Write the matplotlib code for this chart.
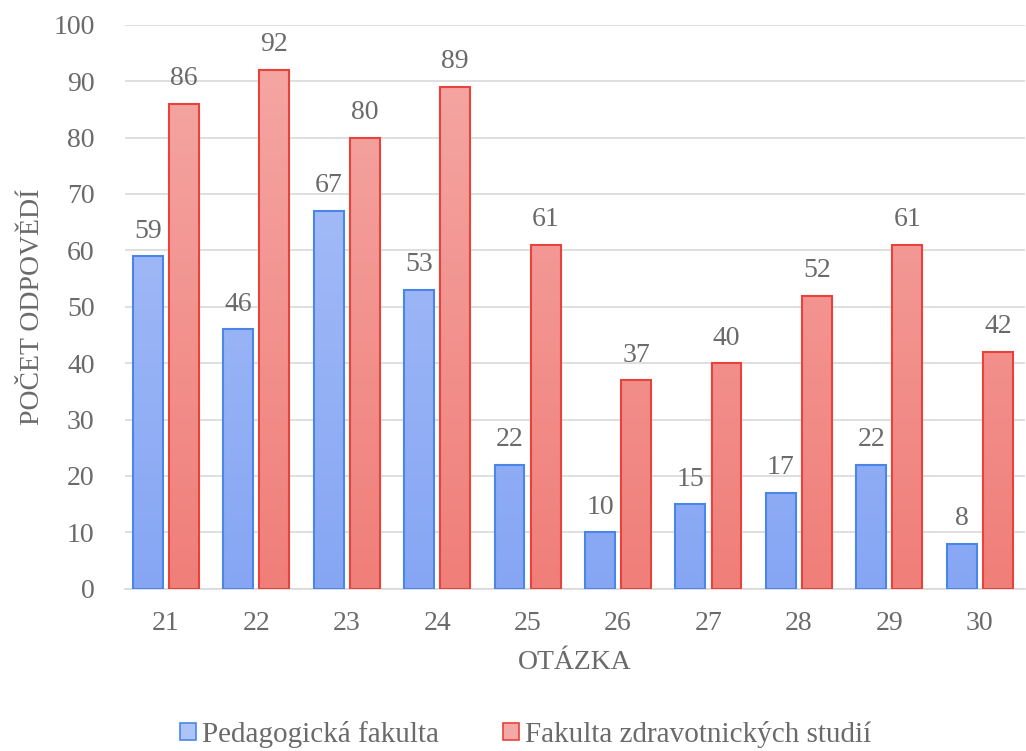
import numpy as np
import matplotlib.pyplot as plt
import matplotlib.colors as colors
from matplotlib.patches import Patch

plt.rcParams['font.family'] = ['Liberation Serif', 'DejaVu Serif']

questions = ['21', '22', '23', '24', '25', '26', '27', '28', '29', '30']
pedagogicka = [59, 46, 67, 53, 22, 10, 15, 17, 22, 8]
zdravotnicka = [86, 92, 80, 89, 61, 37, 40, 52, 61, 42]

series_names = ['Pedagogická fakulta', 'Fakulta zdravotnických studií']
edge_colors = ['#4A86E8', '#E8433B']
grad_top = ['#AEC3F8', '#F5A9A6']
grad_bottom = ['#86A6F4', '#F07E79']

text_gray = '#6A6A6A'


def gradient_bars(ax, bars, top, bottom):
    cmap = colors.LinearSegmentedColormap.from_list('g', [bottom, top])
    grad = np.linspace(0, 1, 256).reshape(-1, 1)
    for b in bars:
        x = b.get_x()
        w = b.get_width()
        im = ax.imshow(grad, cmap=cmap, origin='lower', aspect='auto',
                       extent=[x, x + w, 0, 100], zorder=2,
                       interpolation='bilinear')
        im.set_clip_path(b)


fig = plt.figure(figsize=(10.26, 7.51), dpi=100)
ax = fig.add_axes([0.122, 0.216, 0.877, 0.751])

x = np.arange(len(questions))
width = 0.33
offset = 0.2

for vals, off, ec, top, bot in zip([pedagogicka, zdravotnicka], [-offset, offset],
                                   edge_colors, grad_top, grad_bottom):
    bars = ax.bar(x + off, vals, width, facecolor='none', edgecolor=ec,
                  linewidth=1.5, zorder=3)
    gradient_bars(ax, bars, top, bot)
    for xi, v in zip(x + off, vals):
        ax.text(xi, v + 2.2, str(v), ha='center', va='bottom',
                fontsize=20, color=text_gray)

ax.set_xlim(-0.45, 9.5)
ax.set_ylim(0, 100)
ax.set_yticks(range(0, 101, 10))
ax.set_xticks(x)
ax.set_xticklabels(questions)
ax.yaxis.grid(True, color='#D9D9D9', linewidth=1.2, zorder=0)
ax.set_axisbelow(True)
for s in ['top', 'right', 'left']:
    ax.spines[s].set_visible(False)
ax.spines['bottom'].set_color('#D9D9D9')
ax.spines['bottom'].set_linewidth(1.2)
ax.tick_params(axis='y', length=0, labelsize=20, labelcolor=text_gray, pad=22)
ax.tick_params(axis='x', length=0, labelsize=20, labelcolor=text_gray, pad=16)

ax.set_xlabel('OTÁZKA', fontsize=20, color=text_gray, labelpad=10)
ax.set_ylabel('POČET ODPOVĚDÍ', fontsize=20, color=text_gray, labelpad=6)

handles = [Patch(facecolor=t, edgecolor=e, linewidth=1.2)
           for t, e in zip(grad_top, edge_colors)]
fig.legend(handles, series_names, loc='center', bbox_to_anchor=(0.512, 0.022),
           ncol=2, frameon=False, fontsize=21, labelcolor=text_gray,
           handlelength=0.55, handleheight=0.55, handletextpad=0.2,
           columnspacing=2.2)

fig.savefig('out.png', dpi=100)
